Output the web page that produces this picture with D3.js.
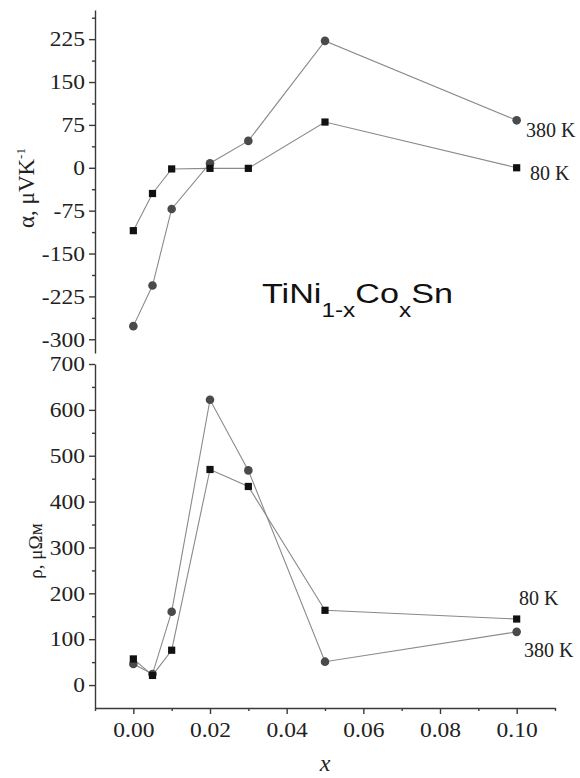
<!DOCTYPE html>
<html lang="en">
<head>
    <meta charset="UTF-8">
    <title>TiNi1-xCoxSn</title>
    <script src="https://d3js.org/d3.v7.min.js"></script>
    <style>
        body { margin: 0; background: #fff; }
        .line { fill: none; stroke: #8a8a8a; stroke-width: 1.1px; }
        .axis path, .axis line { stroke: #3a3a3a; stroke-width: 1.4px; }
        .lbl { font-family: "Liberation Serif", "DejaVu Serif", serif; fill: #222; }
    </style>
</head>
<body>
<div id="chart"></div>
<script>
    // x values (Co fraction)
    var xVals = [0, 0.005, 0.01, 0.02, 0.03, 0.05, 0.10];
    // Seebeck coefficient, uV/K
    var alpha380 = [-277, -206, -72, 8, 47, 222, 83];
    var alpha80 = [-110, -45, -2, -1, -1, 80, 0];
    // resistivity, uOhm m
    var rho380 = [46, 24, 160, 622, 468, 51, 116];
    var rho80 = [57, 21, 76, 470, 433, 163, 144];

    var xTicks = [0, 0.02, 0.04, 0.06, 0.08, 0.10];
    var xMinor = [-0.01, 0.01, 0.03, 0.05, 0.07, 0.09, 0.11];
    var aTicks = [-300, -225, -150, -75, 0, 75, 150, 225];
    var aMinor = [-262.5, -187.5, -112.5, -37.5, 37.5, 112.5, 187.5, 262.5];
    var rTicks = [0, 100, 200, 300, 400, 500, 600, 700];
    var rMinor = [50, 150, 250, 350, 450, 550, 650];

    var W = 580, H = 778;
    var serif = "'Liberation Serif', 'DejaVu Serif', serif";
    var svg = d3.select("#chart").append("svg")
        .attr("width", W).attr("height", H);

    var x = d3.scaleLinear().domain([-0.01, 0.11]).range([95, 555]);
    var yA = d3.scaleLinear().domain([-324, 276]).range([353, 10]);
    var yR = d3.scaleLinear().domain([-50, 700]).range([708, 364]);

    function styleText(g) {
        g.attr("font-family", null).attr("font-size", null);
        g.selectAll("text")
            .style("font-family", serif)
            .style("font-size", "21px")
            .attr("fill", "#222");
    }

    function leftAxis(y, major, minor) {
        var g = svg.append("g").attr("class", "axis").attr("transform", "translate(95,0)");
        g.call(d3.axisLeft(y).tickValues(minor).tickSize(3).tickSizeOuter(0).tickFormat(""));
        var g2 = svg.append("g").attr("class", "axis").attr("transform", "translate(95,0)");
        g2.call(d3.axisLeft(y).tickValues(major).tickSize(6).tickSizeOuter(0)
            .tickFormat(function(d) { return String(d); }));
        g2.select(".domain").remove();
        styleText(g2);
        g2.selectAll("text").attr("transform", "scale(1.12,1)").attr("x", -9);
    }
    leftAxis(yA, aTicks, aMinor);
    leftAxis(yR, rTicks, rMinor);

    var gx = svg.append("g").attr("class", "axis").attr("transform", "translate(0,708)");
    gx.call(d3.axisBottom(x).tickValues(xMinor).tickSize(3).tickSizeOuter(0).tickFormat(""));
    var gx2 = svg.append("g").attr("class", "axis").attr("transform", "translate(0,708)");
    gx2.call(d3.axisBottom(x).tickValues(xTicks).tickSize(6).tickSizeOuter(0)
        .tickPadding(8).tickFormat(d3.format(".2f")));
    gx2.select(".domain").remove();
    styleText(gx2);
    gx2.selectAll("text").attr("transform", "scale(1.12,1)");

    function series(y, vals) {
        var pts = xVals.map(function(d, i) { return [x(d), y(vals[i])]; });
        svg.append("path").attr("class", "line").attr("d", d3.line()(pts));
        return pts;
    }
    function markers(pts, shape) {
        if (shape === "sq") {
            svg.selectAll(null).data(pts).enter().append("rect")
                .attr("x", function(d) { return d[0] - 3.6; })
                .attr("y", function(d) { return d[1] - 3.6; })
                .attr("width", 7.2).attr("height", 7.2)
                .attr("fill", "#111");
        } else {
            svg.selectAll(null).data(pts).enter().append("circle")
                .attr("cx", function(d) { return d[0]; })
                .attr("cy", function(d) { return d[1]; })
                .attr("r", 4.3).attr("fill", "#4a4a4a");
        }
    }
    var pA380 = series(yA, alpha380), pA80 = series(yA, alpha80);
    var pR380 = series(yR, rho380), pR80 = series(yR, rho80);
    markers(pA380, "c"); markers(pA80, "sq");
    markers(pR380, "c"); markers(pR80, "sq");

    // series labels
    function lbl(t, px, py) {
        svg.append("text").attr("class", "lbl")
            .attr("x", px).attr("y", py)
            .attr("font-size", 20).text(t);
    }
    lbl("380 K", 526, 137);
    lbl("80 K", 530, 180);
    lbl("80 K", 519, 605);
    lbl("380 K", 524, 657);

    // axis titles
    var ta = svg.append("text").attr("class", "lbl")
        .attr("transform", "translate(34,188) rotate(-90)")
        .attr("text-anchor", "middle").attr("font-size", 23);
    ta.append("tspan").text("\u03b1, \u03bcVK");
    ta.append("tspan").attr("dy", -9).attr("font-size", 13).text("-1");

    svg.append("text").attr("class", "lbl")
        .attr("transform", "translate(42,551) rotate(-90)")
        .attr("text-anchor", "middle").attr("font-size", 19)
        .text("\u03c1, \u03bc\u03a9\u043c");

    svg.append("text").attr("class", "lbl")
        .attr("x", 325).attr("y", 771).attr("text-anchor", "middle")
        .attr("font-size", 24).attr("font-style", "italic").text("x");

    // compound name
    var tt = svg.append("text")
        .attr("transform", "translate(262,303) scale(1.22,1)")
        .attr("font-family", "'Liberation Sans', Arial, sans-serif")
        .attr("font-size", 28).attr("fill", "#111");
    tt.append("tspan").text("TiNi");
    tt.append("tspan").attr("dy", 14).attr("font-size", 20).text("1-x");
    tt.append("tspan").attr("dy", -14).text("Co");
    tt.append("tspan").attr("dy", 14).attr("font-size", 20).text("x");
    tt.append("tspan").attr("dy", -14).text("Sn");
</script>
</body>
</html>
